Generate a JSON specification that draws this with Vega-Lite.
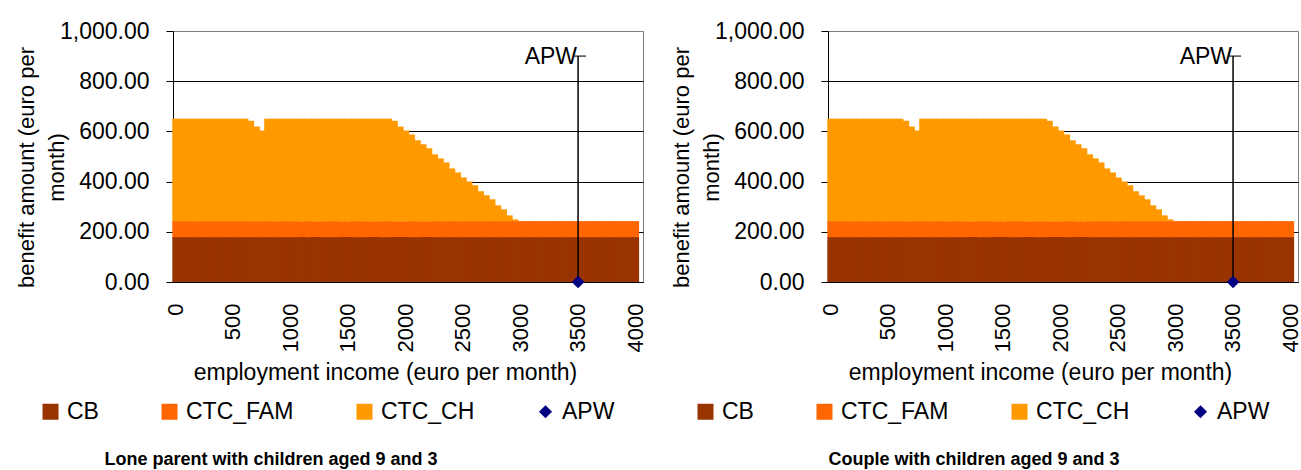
{
  "$schema": "https://vega.github.io/schema/vega-lite/v6.json",
  "padding": {"left": 14, "top": 19, "right": 0, "bottom": 0},
  "background": "white",
  "datasets": {
    "main": [
      {"inc":0,"CB":179,"CTC_FAM":63.5,"CTC_CH":408},{"inc":50,"CB":179,"CTC_FAM":63.5,"CTC_CH":408},{"inc":100,"CB":179,"CTC_FAM":63.5,"CTC_CH":408},{"inc":150,"CB":179,"CTC_FAM":63.5,"CTC_CH":408},{"inc":200,"CB":179,"CTC_FAM":63.5,"CTC_CH":408},{"inc":250,"CB":179,"CTC_FAM":63.5,"CTC_CH":408},{"inc":300,"CB":179,"CTC_FAM":63.5,"CTC_CH":408},{"inc":350,"CB":179,"CTC_FAM":63.5,"CTC_CH":408},{"inc":400,"CB":179,"CTC_FAM":63.5,"CTC_CH":408},{"inc":450,"CB":179,"CTC_FAM":63.5,"CTC_CH":408},{"inc":500,"CB":179,"CTC_FAM":63.5,"CTC_CH":408},{"inc":550,"CB":179,"CTC_FAM":63.5,"CTC_CH":408},{"inc":600,"CB":179,"CTC_FAM":63.5,"CTC_CH":408},
      {"inc":650,"CB":179,"CTC_FAM":63.5,"CTC_CH":400},{"inc":700,"CB":179,"CTC_FAM":63.5,"CTC_CH":377},{"inc":750,"CB":179,"CTC_FAM":63.5,"CTC_CH":361},
      {"inc":800,"CB":179,"CTC_FAM":63.5,"CTC_CH":408},{"inc":850,"CB":179,"CTC_FAM":63.5,"CTC_CH":408},{"inc":900,"CB":179,"CTC_FAM":63.5,"CTC_CH":408},{"inc":950,"CB":179,"CTC_FAM":63.5,"CTC_CH":408},{"inc":1000,"CB":179,"CTC_FAM":63.5,"CTC_CH":408},{"inc":1050,"CB":179,"CTC_FAM":63.5,"CTC_CH":408},{"inc":1100,"CB":179,"CTC_FAM":63.5,"CTC_CH":408},{"inc":1150,"CB":179,"CTC_FAM":63.5,"CTC_CH":408},{"inc":1200,"CB":179,"CTC_FAM":63.5,"CTC_CH":408},{"inc":1250,"CB":179,"CTC_FAM":63.5,"CTC_CH":408},{"inc":1300,"CB":179,"CTC_FAM":63.5,"CTC_CH":408},{"inc":1350,"CB":179,"CTC_FAM":63.5,"CTC_CH":408},{"inc":1400,"CB":179,"CTC_FAM":63.5,"CTC_CH":408},{"inc":1450,"CB":179,"CTC_FAM":63.5,"CTC_CH":408},{"inc":1500,"CB":179,"CTC_FAM":63.5,"CTC_CH":408},{"inc":1550,"CB":179,"CTC_FAM":63.5,"CTC_CH":408},{"inc":1600,"CB":179,"CTC_FAM":63.5,"CTC_CH":408},{"inc":1650,"CB":179,"CTC_FAM":63.5,"CTC_CH":408},{"inc":1700,"CB":179,"CTC_FAM":63.5,"CTC_CH":408},{"inc":1750,"CB":179,"CTC_FAM":63.5,"CTC_CH":408},{"inc":1800,"CB":179,"CTC_FAM":63.5,"CTC_CH":408},{"inc":1850,"CB":179,"CTC_FAM":63.5,"CTC_CH":408},
      {"inc":1900,"CB":179,"CTC_FAM":63.5,"CTC_CH":400},{"inc":1950,"CB":179,"CTC_FAM":63.5,"CTC_CH":377},{"inc":2000,"CB":179,"CTC_FAM":63.5,"CTC_CH":361},{"inc":2050,"CB":179,"CTC_FAM":63.5,"CTC_CH":345},{"inc":2100,"CB":179,"CTC_FAM":63.5,"CTC_CH":322},{"inc":2150,"CB":179,"CTC_FAM":63.5,"CTC_CH":306},{"inc":2200,"CB":179,"CTC_FAM":63.5,"CTC_CH":290},{"inc":2250,"CB":179,"CTC_FAM":63.5,"CTC_CH":266},{"inc":2300,"CB":179,"CTC_FAM":63.5,"CTC_CH":250},{"inc":2350,"CB":179,"CTC_FAM":63.5,"CTC_CH":234},{"inc":2400,"CB":179,"CTC_FAM":63.5,"CTC_CH":210},{"inc":2450,"CB":179,"CTC_FAM":63.5,"CTC_CH":194},{"inc":2500,"CB":179,"CTC_FAM":63.5,"CTC_CH":174},{"inc":2550,"CB":179,"CTC_FAM":63.5,"CTC_CH":158},{"inc":2600,"CB":179,"CTC_FAM":63.5,"CTC_CH":143},{"inc":2650,"CB":179,"CTC_FAM":63.5,"CTC_CH":119},{"inc":2700,"CB":179,"CTC_FAM":63.5,"CTC_CH":103},{"inc":2750,"CB":179,"CTC_FAM":63.5,"CTC_CH":87},{"inc":2800,"CB":179,"CTC_FAM":63.5,"CTC_CH":63},{"inc":2850,"CB":179,"CTC_FAM":63.5,"CTC_CH":47},{"inc":2900,"CB":179,"CTC_FAM":63.5,"CTC_CH":23},{"inc":2950,"CB":179,"CTC_FAM":63.5,"CTC_CH":7},
      {"inc":3000,"CB":179,"CTC_FAM":63.5,"CTC_CH":0},{"inc":3050,"CB":179,"CTC_FAM":63.5,"CTC_CH":0},{"inc":3100,"CB":179,"CTC_FAM":63.5,"CTC_CH":0},{"inc":3150,"CB":179,"CTC_FAM":63.5,"CTC_CH":0},{"inc":3200,"CB":179,"CTC_FAM":63.5,"CTC_CH":0},{"inc":3250,"CB":179,"CTC_FAM":63.5,"CTC_CH":0},{"inc":3300,"CB":179,"CTC_FAM":63.5,"CTC_CH":0},{"inc":3350,"CB":179,"CTC_FAM":63.5,"CTC_CH":0},{"inc":3400,"CB":179,"CTC_FAM":63.5,"CTC_CH":0},{"inc":3450,"CB":179,"CTC_FAM":63.5,"CTC_CH":0},{"inc":3500,"CB":179,"CTC_FAM":63.5,"CTC_CH":0},{"inc":3550,"CB":179,"CTC_FAM":63.5,"CTC_CH":0},{"inc":3600,"CB":179,"CTC_FAM":63.5,"CTC_CH":0},{"inc":3650,"CB":179,"CTC_FAM":63.5,"CTC_CH":0},{"inc":3700,"CB":179,"CTC_FAM":63.5,"CTC_CH":0},{"inc":3750,"CB":179,"CTC_FAM":63.5,"CTC_CH":0},{"inc":3800,"CB":179,"CTC_FAM":63.5,"CTC_CH":0},{"inc":3850,"CB":179,"CTC_FAM":63.5,"CTC_CH":0},{"inc":3900,"CB":179,"CTC_FAM":63.5,"CTC_CH":0},{"inc":3950,"CB":179,"CTC_FAM":63.5,"CTC_CH":0},{"inc":4000,"CB":179,"CTC_FAM":63.5,"CTC_CH":0}
    ],
    "apw": [{"inc":3500,"series":"APW","value":0,"top":900}]
  },
  "hconcat": [
    {
      "width": 470, "height": 251,
      "title": {"text": "Lone parent with children aged 9 and 3", "orient": "bottom", "anchor": "middle", "frame": "group", "fontSize": 18, "fontWeight": "bold", "font": "Liberation Sans", "color": "black", "offset": 27, "dx": -137},
      "encoding": {
        "x": {"field": "inc", "type": "ordinal",
          "scale": {"type": "band", "paddingInner": 0, "paddingOuter": 0.4, "align": 0},
          "axis": {"title": "employment income (euro per month)", "values": [0,500,1000,1500,2000,2500,3000,3500,4000], "labelAngle": -90, "labelFontSize": 22, "ticks": false, "labelPadding": 21, "titleFontSize": 23, "titleX": 212, "titleY": 97, "titleBaseline": "alphabetic", "titleAlign": "center", "grid": false}}
      },
      "layer": [
        {
          "data": {"name": "main"},
          "transform": [
            {"fold": ["CB", "CTC_FAM", "CTC_CH"], "as": ["series", "value"]},
            {"window": [{"op": "row_number", "as": "k"}], "groupby": ["inc"]}
          ],
          "mark": {"type": "bar", "width": {"band": 1.25}},
          "encoding": {
            "y": {"field": "value", "type": "quantitative", "stack": "zero",
              "scale": {"domain": [0, 1000], "nice": false},
              "axis": {"title": ["benefit amount (euro per", "month)"], "values": [0,200,400,600,800,1000], "format": ",.2f", "labelFontSize": 23, "titleFontSize": 22, "tickSize": 7, "labelPadding": 17, "grid": true, "gridColor": {"condition": {"test": "datum.value === 1000", "value": "#808080"}, "value": "black"}, "titleX": -135, "titleY": 136, "titleLineHeight": 30, "titleBaseline": "bottom", "titleAlign": "center"}},
            "order": {"field": "k", "type": "quantitative"},
            "color": {"field": "series", "type": "nominal",
              "scale": {"domain": ["CB", "CTC_FAM", "CTC_CH", "APW"], "range": ["#993300", "#FF6600", "#FF9900", "#000080"]},
              "legend": {"title": null}}
          }
        },
        {
          "data": {"name": "apw"},
          "mark": {"type": "rule", "color": "black", "strokeWidth": 1.5},
          "encoding": {"y": {"field": "value", "type": "quantitative"}, "y2": {"field": "top"}}
        },
        {
          "data": {"name": "apw"},
          "mark": {"type": "tick", "color": "black", "size": 12, "thickness": 1.5, "xOffset": 2},
          "encoding": {"y": {"field": "top", "type": "quantitative"}}
        },
        {
          "data": {"name": "apw"},
          "mark": {"type": "text", "align": "right", "baseline": "middle", "dx": -1, "dy": 1, "fontSize": 23, "font": "Liberation Sans", "color": "black"},
          "encoding": {"y": {"field": "top", "type": "quantitative"}, "text": {"field": "series"}}
        },
        {
          "data": {"name": "apw"},
          "mark": {"type": "point", "filled": true, "size": 240, "opacity": 1},
          "encoding": {
            "y": {"field": "value", "type": "quantitative"},
            "color": {"field": "series", "type": "nominal", "legend": {"title": null}},
            "shape": {"field": "series", "type": "nominal",
              "scale": {"domain": ["CB", "CTC_FAM", "CTC_CH", "APW"], "range": ["square", "square", "square", "M-0.82,0L0,-0.82L0.82,0L0,0.82Z"]},
              "legend": {"title": null}}
          }
        }
      ]
    },
    {
      "width": 470, "height": 251,
      "title": {"text": "Couple with children aged 9 and 3", "orient": "bottom", "anchor": "middle", "frame": "group", "fontSize": 18, "fontWeight": "bold", "font": "Liberation Sans", "color": "black", "offset": 27, "dx": -89},
      "encoding": {
        "x": {"field": "inc", "type": "ordinal",
          "scale": {"type": "band", "paddingInner": 0, "paddingOuter": 0.4, "align": 0},
          "axis": {"title": "employment income (euro per month)", "values": [0,500,1000,1500,2000,2500,3000,3500,4000], "labelAngle": -90, "labelFontSize": 22, "ticks": false, "labelPadding": 21, "titleFontSize": 23, "titleX": 212, "titleY": 97, "titleBaseline": "alphabetic", "titleAlign": "center", "grid": false}}
      },
      "layer": [
        {
          "data": {"name": "main"},
          "transform": [
            {"fold": ["CB", "CTC_FAM", "CTC_CH"], "as": ["series", "value"]},
            {"window": [{"op": "row_number", "as": "k"}], "groupby": ["inc"]}
          ],
          "mark": {"type": "bar", "width": {"band": 1.25}},
          "encoding": {
            "y": {"field": "value", "type": "quantitative", "stack": "zero",
              "scale": {"domain": [0, 1000], "nice": false},
              "axis": {"title": ["benefit amount (euro per", "month)"], "values": [0,200,400,600,800,1000], "format": ",.2f", "labelFontSize": 23, "titleFontSize": 22, "tickSize": 7, "labelPadding": 17, "grid": true, "gridColor": {"condition": {"test": "datum.value === 1000", "value": "#808080"}, "value": "black"}, "titleX": -135, "titleY": 136, "titleLineHeight": 30, "titleBaseline": "bottom", "titleAlign": "center"}},
            "order": {"field": "k", "type": "quantitative"},
            "color": {"field": "series", "type": "nominal",
              "scale": {"domain": ["CB", "CTC_FAM", "CTC_CH", "APW"], "range": ["#993300", "#FF6600", "#FF9900", "#000080"]},
              "legend": {"title": null}}
          }
        },
        {
          "data": {"name": "apw"},
          "mark": {"type": "rule", "color": "black", "strokeWidth": 1.5},
          "encoding": {"y": {"field": "value", "type": "quantitative"}, "y2": {"field": "top"}}
        },
        {
          "data": {"name": "apw"},
          "mark": {"type": "tick", "color": "black", "size": 12, "thickness": 1.5, "xOffset": 2},
          "encoding": {"y": {"field": "top", "type": "quantitative"}}
        },
        {
          "data": {"name": "apw"},
          "mark": {"type": "text", "align": "right", "baseline": "middle", "dx": -1, "dy": 1, "fontSize": 23, "font": "Liberation Sans", "color": "black"},
          "encoding": {"y": {"field": "top", "type": "quantitative"}, "text": {"field": "series"}}
        },
        {
          "data": {"name": "apw"},
          "mark": {"type": "point", "filled": true, "size": 240, "opacity": 1},
          "encoding": {
            "y": {"field": "value", "type": "quantitative"},
            "color": {"field": "series", "type": "nominal", "legend": {"title": null}},
            "shape": {"field": "series", "type": "nominal",
              "scale": {"domain": ["CB", "CTC_FAM", "CTC_CH", "APW"], "range": ["square", "square", "square", "M-0.82,0L0,-0.82L0.82,0L0,0.82Z"]},
              "legend": {"title": null}}
          }
        }
      ]
    }
  ],
  "spacing": 22,
  "resolve": {
    "scale": {"color": "independent", "shape": "independent", "x": "independent", "y": "independent"},
    "legend": {"color": "independent", "shape": "independent"}
  },
  "config": {
    "font": "Liberation Sans",
    "view": {"stroke": "#808080", "strokeWidth": 1},
    "axis": {"labelColor": "black", "titleColor": "black", "domainColor": "black", "tickColor": "black", "labelFont": "Liberation Sans", "titleFont": "Liberation Sans", "titleFontWeight": "normal", "domainWidth": 1, "gridWidth": 1},
    "legend": {"orient": "none", "legendX": -134, "legendY": 369, "direction": "horizontal", "padding": 0, "labelFontSize": 23, "labelFont": "Liberation Sans", "labelColor": "black", "symbolSize": 256, "symbolStrokeWidth": 0, "labelOffset": 5, "columnPadding": 59, "symbolOpacity": 1}
  }
}
